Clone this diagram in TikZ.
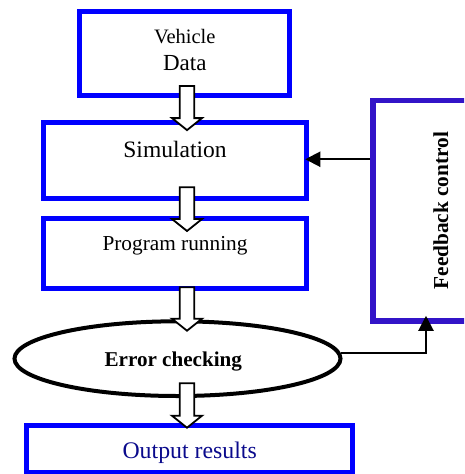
\documentclass[tikz,border=0pt]{standalone}
\usepackage{fontspec}
\setmainfont{Liberation Serif}
\usetikzlibrary{shapes.geometric,arrows.meta,calc}
\definecolor{boxblue}{RGB}{0,0,255}
\definecolor{fbblue}{RGB}{50,20,200}
\definecolor{outtext}{RGB}{10,10,140}
\tikzset{
  bluebox/.style={draw=boxblue, line width=5pt, rectangle, fill=none, inner sep=3.3pt},
  fbbox/.style={draw=fbblue, line width=5.5pt, rectangle, inner sep=3.3pt},
  errell/.style={draw=black, line width=4pt, ellipse, inner sep=3.3pt},
  conn/.style={draw=black, line width=2pt, -{Triangle[length=15pt,width=15pt]}},
  blockarrow/.style={draw=black, fill=white, line width=1.8pt, line join=miter},
}
\newcommand\blockarr[2]{%
  \draw[blockarrow] ($(#1)+(-7.3,0)$) -- ($(#2)+(-7.3,-12)$) -- ($(#2)+(-15,-12)$) -- (#2)
    -- ($(#2)+(15,-12)$) -- ($(#2)+(7.3,-12)$) -- ($(#1)+(7.3,0)$) -- cycle;}
\begin{document}
\begin{tikzpicture}[x=1pt,y=-1pt]
\clip (0,0) rectangle (464,474);
% boxes
\node[bluebox, minimum width=209.9pt, minimum height=84.3pt] (veh) at (184.75,53.15) {};
\node[anchor=base, font=\fontsize{20.5}{24}\selectfont] (vtext) at ($(veh.center)+(0,-10.15)$) {Vehicle};
\node[anchor=base, font=\fontsize{23}{27}\selectfont] (dtext) at ($(veh.center)+(0,16.85)$) {Data};
\node[bluebox, minimum width=263.5pt, minimum height=76.3pt, text height=16pt, text depth=22.5pt,
      font=\fontsize{23.5}{28}\selectfont] (sim) at (175,160.25) {Simulation};
\node[bluebox, minimum width=263.5pt, minimum height=69.8pt, text height=15pt, text depth=20.4pt,
      font=\fontsize{21.3}{25}\selectfont] (prog) at (175,253.4) {Program running};
\node[errell, minimum width=326pt, minimum height=74.7pt, text height=15.5pt, text depth=0.8pt,
      font=\bfseries\fontsize{21.1}{25}\selectfont] (err) at (177.5,358.65) {Error checking\kern8.4pt};
\node[bluebox, minimum width=326.3pt, minimum height=46.5pt, text height=20pt, text depth=0.9pt,
      text=outtext, font=\fontsize{23.8}{28}\selectfont] (out) at (189.65,448.75) {Output results};
\node[fbbox, rotate=90, minimum width=220.7pt, minimum height=136.4pt, text height=14.5pt, text depth=0.5pt,
      font=\bfseries\fontsize{21.3}{25}\selectfont] (fb) at (441,210.65) {Feedback control};
% connectors
\coordinate (fbx) at (426,0);
\draw[conn, shorten >=-4pt] ($(fb.north |- sim.east)+(0,-1)$) -- ($(sim.east)+(0,-1)$);
\draw[conn] (err.2) -| ($(fbx |- fb.west)+(0,-8)$);
% block arrows
\coordinate (ax) at (187,0);
\coordinate (a1s) at ($(ax |- veh.south)+(0,-11.8)$);
\coordinate (a1e) at ($(ax |- sim.north)+(0,10.5)$);
\coordinate (a2s) at ($(ax |- sim.south)+(0,-13.75)$);
\coordinate (a2e) at ($(ax |- prog.north)+(0,15)$);
\coordinate (a3s) at ($(ax |- prog.south)+(0,-3.5)$);
\coordinate (a3e) at ($(ax |- err.north)+(0,11.4)$);
\coordinate (a4s) at ($(ax |- err.south)+(0,-14.7)$);
\coordinate (a4e) at ($(ax |- out.north)+(0,4.7)$);
\blockarr{a1s}{a1e}
\blockarr{a2s}{a2e}
\blockarr{a3s}{a3e}
\blockarr{a4s}{a4e}
\end{tikzpicture}
\end{document}
